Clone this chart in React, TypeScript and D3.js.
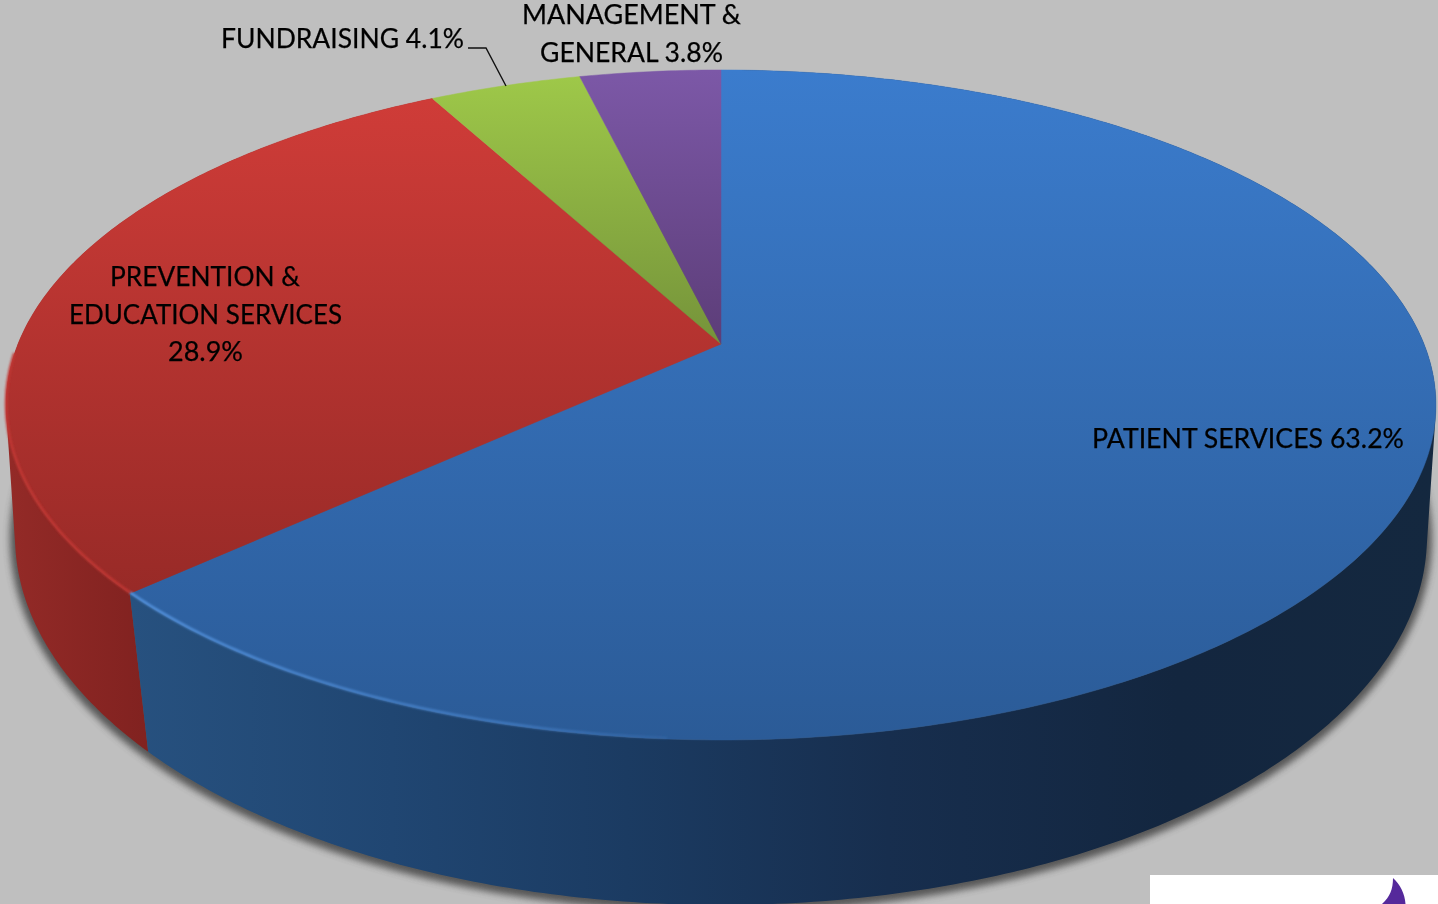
import React from "react";
import * as d3 from "d3";

const categories = ["PATIENT SERVICES", "PREVENTION & EDUCATION SERVICES", "FUNDRAISING", "MANAGEMENT & GENERAL"];
const values = [63.2, 28.9, 4.1, 3.8];
const topColors = ["#3b7ccd", "#cf3c38", "#9ec849", "#7c58a7"];
const bottomColors = ["#2b5b97", "#982a27", "#75933a", "#5c3d78"];
const wallStops = [
  [
    [0.0, "#14283f"],
    [0.2, "#13263f"],
    [0.42, "#172e4e"],
    [0.62, "#1b3b62"],
    [0.8, "#204672"],
    [1.0, "#27517f"],
  ],
  [
    [0, "#932a27"],
    [1, "#812220"],
  ],
];

const W = 1438;
const H = 904;
const cx = 721;
// top disc, projected in perspective
const topDisc = { y0: 344, a: 703, b: 323.9, p: 0.182 };
// bottom disc
const lowDisc = { y0: 481, a: 698, b: 360.4, p: 0.15 };

const project = (d: typeof topDisc, t: number): [number, number] => {
  const w = 1 + d.p * Math.cos(t);
  return [cx + (d.a * Math.sin(t)) / w, d.y0 - (d.b * Math.cos(t)) / w];
};
const topPt = (t: number) => project(topDisc, t);
const lowPt = (t: number) => project(lowDisc, t);
const samples = (a0: number, a1: number) => {
  const n = Math.max(2, Math.ceil(Math.abs(a1 - a0) * 90));
  return d3.range(n + 1).map((i) => a0 + ((a1 - a0) * i) / n);
};
const line = d3.line<[number, number]>();

const slices = d3
  .pie<number>()
  .sort(null)
  .startAngle(0)
  .endAngle(2 * Math.PI)(values);

// the wall is the sweep of the segment between the two discs
const wallPath = (a0: number, a1: number) => {
  const ts = samples(a0, a1);
  return ts
    .slice(1)
    .map((t, i) => {
      const prev = ts[i];
      const hull = d3.polygonHull([topPt(prev), topPt(t), lowPt(t), lowPt(prev)]) as [number, number][];
      return line(hull) + "Z";
    })
    .join("");
};
const lowOutline = line(samples(0, 2 * Math.PI).map(lowPt)) + "Z";

const topPath = (a0: number, a1: number) =>
  line([[cx, topDisc.y0], ...samples(a0, a1).map(topPt)] as [number, number][]) + "Z";

const labels = [
  { lines: [{ t: "PATIENT SERVICES 63.2%", x0: 1092, x1: 1404, y: 448 }] },
  {
    lines: [
      { t: "PREVENTION &", x0: 110, x1: 300, y: 286 },
      { t: "EDUCATION SERVICES", x0: 69, x1: 342, y: 324 },
      { t: "28.9%", x0: 168, x1: 243, y: 361 },
    ],
  },
  { lines: [{ t: "FUNDRAISING 4.1%", x0: 221, x1: 464, y: 48 }] },
  {
    lines: [
      { t: "MANAGEMENT &", x0: 522, x1: 741, y: 24 },
      { t: "GENERAL 3.8%", x0: 540, x1: 723, y: 62 },
    ],
  },
];

export default function App() {
  const blueEnd = slices[0].endAngle;
  const redEnd = slices[1].endAngle;
  return (
    <svg
      width={W}
      height={H}
      viewBox={`0 0 ${W} ${H}`}
      style={{ position: "fixed", left: 0, top: 0, display: "block" }}
    >
      <defs>
        {slices.map((s, i) => (
          <linearGradient key={i} id={`top${i}`} x1="0" y1="0" x2="0" y2="1">
            <stop offset="0" stopColor={topColors[i]} />
            <stop offset="1" stopColor={bottomColors[i]} />
          </linearGradient>
        ))}
        {wallStops.map((st, i) => (
          <linearGradient
            key={i}
            id={`wall${i}`}
            gradientUnits="userSpaceOnUse"
            x1={i === 0 ? 1438 : 10}
            x2={i === 0 ? 130 : 145}
            y1="0"
            y2="0"
          >
            {st.map((c, j) => (
              <stop key={j} offset={c[0] as number} stopColor={c[1] as string} />
            ))}
          </linearGradient>
        ))}
        <linearGradient id="rimBlue" gradientUnits="userSpaceOnUse" x1="131" x2="720" y1="0" y2="0">
          <stop offset="0" stopColor="#5a9ae6" stopOpacity="0.9" />
          <stop offset="0.65" stopColor="#4f8dd8" stopOpacity="0.6" />
          <stop offset="1" stopColor="#4f8dd8" stopOpacity="0" />
        </linearGradient>
        <filter id="blur" x="-5%" y="-5%" width="110%" height="110%">
          <feGaussianBlur stdDeviation="3.5" />
        </filter>
        <filter id="soft" x="-5%" y="-5%" width="110%" height="110%">
          <feGaussianBlur stdDeviation="1" />
        </filter>
        <filter id="textSoft" x="-5%" y="-20%" width="110%" height="140%">
          <feGaussianBlur stdDeviation="0.3" />
        </filter>
      </defs>

      <rect x={0} y={0} width={W} height={H} fill="#bfbfbf" />

      <path
        d={lowOutline}
        fill="#444"
        stroke="#444"
        strokeWidth={10}
        opacity={0.85}
        transform="translate(0,2)"
        filter="url(#blur)"
      />

      {/* side walls */}
      <path d={wallPath(blueEnd, redEnd)} fill="url(#wall1)" />
      <path d={wallPath(0, blueEnd)} fill="url(#wall0)" />

      {/* top face */}
      {slices.map((s, i) => (
        <path
          key={categories[i]}
          d={topPath(s.startAngle, s.endAngle)}
          fill={`url(#top${i})`}
          stroke={`url(#top${i})`}
          strokeWidth={0.5}
        />
      ))}

      {/* lit rim on the near-left edge */}
      <g transform="translate(0,-1)">
        <path
          d={line(samples(Math.PI * 1.02, blueEnd).map(topPt) as [number, number][]) as string}
          fill="none"
          stroke="url(#rimBlue)"
          strokeWidth={2.5}
          filter="url(#soft)"
        />
        <path
          d={line(samples(blueEnd, Math.PI * 1.49).map(topPt) as [number, number][]) as string}
          fill="none"
          stroke="#c23834"
          strokeWidth={2.5}
          filter="url(#soft)"
        />
      </g>

      {/* labels */}
      <g
        fontFamily="Lato, 'Open Sans', sans-serif"
        fontSize={27}
        fill="#050505"
        stroke="#050505"
        strokeWidth={0.25}
        filter="url(#textSoft)"
      >
        {labels.flatMap((l) =>
          l.lines.map((ln) => (
            <text
              key={ln.t}
              x={ln.x0}
              y={ln.y}
              textLength={ln.x1 - ln.x0}
              lengthAdjust="spacingAndGlyphs"
            >
              {ln.t}
            </text>
          ))
        )}
      </g>
      <polyline points="468,48 486,48 506,86" fill="none" stroke="#111" strokeWidth={1.4} />

      {/* logo fragment */}
      <rect x={1150} y={875} width={288} height={29} fill="#ffffff" />
      <path
        d="M1393,878 C1400,884 1405,894 1405.5,904 L1382,904 C1390,897 1393,889 1393,878 Z"
        fill="#55299b"
      />
    </svg>
  );
}
